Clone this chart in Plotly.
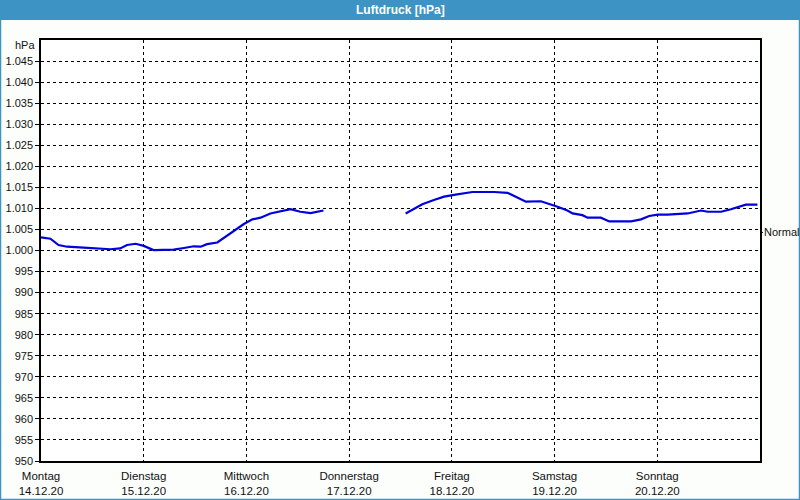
import plotly.graph_objects as go

# hours since Monday 14.12.20 00:00 and pressure values (hPa); None = gap
hours = [0, 2.2, 4.1, 6.1, 10, 13.1, 16.2, 18.5, 20.1, 22.1, 24, 26.3, 31, 33.4, 35.7, 37.3,
         38.8, 41.2, 44.3, 47.4, 49.4, 51.3, 53.6, 56, 58.3, 60.6, 63, 66,
         None,
         85.2, 87.5, 89.1, 91.8, 94.2, 96.5, 98.9, 100.8, 105.9, 109, 111.3, 113.3, 116.8,
         118.4, 120.7, 123, 124.2, 126.5, 127.7, 130.8, 132.8, 137.9, 140.2, 142.1, 144.1,
         146.4, 151.1, 154.2, 155.8, 158.9, 161.2, 164.7, 167.4]
pressure = [1003.1, 1002.8, 1001.3, 1000.9, 1000.7, 1000.5, 1000.3, 1000.5, 1001.3, 1001.6,
            1001.1, 1000.1, 1000.2, 1000.6, 1001.0, 1000.9, 1001.5, 1001.9, 1004.0, 1006.3,
            1007.4, 1007.8, 1008.8, 1009.3, 1009.8, 1009.2, 1008.9, 1009.5,
            None,
            1008.8, 1010.0, 1011.0, 1012.0, 1012.8, 1013.2, 1013.6, 1013.9, 1013.9, 1013.7,
            1012.6, 1011.6, 1011.7, 1011.2, 1010.4, 1009.5, 1008.8, 1008.4, 1007.8, 1007.8,
            1006.9, 1006.9, 1007.4, 1008.2, 1008.5, 1008.5, 1008.8, 1009.5, 1009.2, 1009.2,
            1009.8, 1010.9, 1010.9]

day_ticks = [0, 24, 48, 72, 96, 120, 144]
day_names = ["Montag", "Dienstag", "Mittwoch", "Donnerstag", "Freitag", "Samstag", "Sonntag"]
day_dates = ["14.12.20", "15.12.20", "16.12.20", "17.12.20", "18.12.20", "19.12.20", "20.12.20"]

y_ticks = list(range(950, 1050, 5))
y_labels = [f"{v:,}".replace(",", ".") for v in y_ticks]

normal_value = 1004.3
title_text = "Luftdruck [hPa]"

FONT = "Liberation Sans"
L, R, T, B = 41, 40, 40, 39
PW, PH = 800 - L - R, 500 - T - B

fig = go.Figure()
fig.add_trace(go.Scatter(x=hours, y=pressure, mode="lines",
                         line=dict(color="#0000dd", width=2.2, shape="linear"),
                         connectgaps=False, hoverinfo="skip", showlegend=False))

fig.update_layout(
    width=800, height=500,
    margin=dict(l=L, r=R, t=T, b=B, autoexpand=False),
    paper_bgcolor="#fcfefc", plot_bgcolor="#ffffff",
    font=dict(family=FONT, size=11, color="#111111"),
    showlegend=False,
)
fig.update_xaxes(
    range=[0, 168], tickmode="array", tickvals=day_ticks,
    ticktext=[f"{n}<br>{d}" for n, d in zip(day_names, day_dates)],
    showgrid=True, gridcolor="#000000", gridwidth=1, griddash="3px,3px",
    showline=True, linecolor="#000000", linewidth=1.5, mirror=True,
    ticks="", zeroline=False, automargin=False, ticklabelstandoff=3,
    tickfont=dict(family=FONT, size=11.5),
)
fig.update_yaxes(
    range=[950, 1050], tickmode="array", tickvals=y_ticks, ticktext=y_labels,
    showgrid=True, gridcolor="#000000", gridwidth=1, griddash="3px,3px",
    showline=True, linecolor="#000000", linewidth=1.5, mirror=True,
    ticks="outside", ticklen=4, tickcolor="#000000", zeroline=False, automargin=False,
)

# title bar
fig.add_shape(type="rect", xref="paper", yref="paper", x0=-L/PW, x1=1+R/PW,
              y0=1+(T-20)/PH, y1=1+T/PH, fillcolor="#3d94c4", line=dict(width=0), layer="above")
fig.add_annotation(text=f"<b>{title_text}</b>", xref="paper", yref="paper",
                   x=(400-L)/PW, y=1+(T-10)/PH, xanchor="center", yanchor="middle",
                   showarrow=False, font=dict(family=FONT, size=12, color="#ffffff"))
# outer border
fig.add_shape(type="rect", xref="paper", yref="paper", x0=-(L-0.5)/PW, x1=1+(R-0.5)/PW,
              y0=-(B-0.5)/PH, y1=1+T/PH, line=dict(color="#3d94c4", width=1.5),
              fillcolor="rgba(0,0,0,0)", layer="above")
# unit label
fig.add_annotation(text="hPa", xref="paper", yref="y", x=-4/PW, y=1048.8,
                   xanchor="right", yanchor="middle", showarrow=False,
                   font=dict(family=FONT, size=11))
# Normal marker
fig.add_shape(type="line", xref="paper", yref="y", x0=1, x1=1+3/PW,
              y0=normal_value, y1=normal_value, line=dict(color="#000000", width=1))
fig.add_annotation(text="Normal", xref="paper", yref="y", x=1+2/PW, y=normal_value,
                   xanchor="left", yanchor="middle", showarrow=False,
                   font=dict(family=FONT, size=11))

fig.write_html("out.html")
